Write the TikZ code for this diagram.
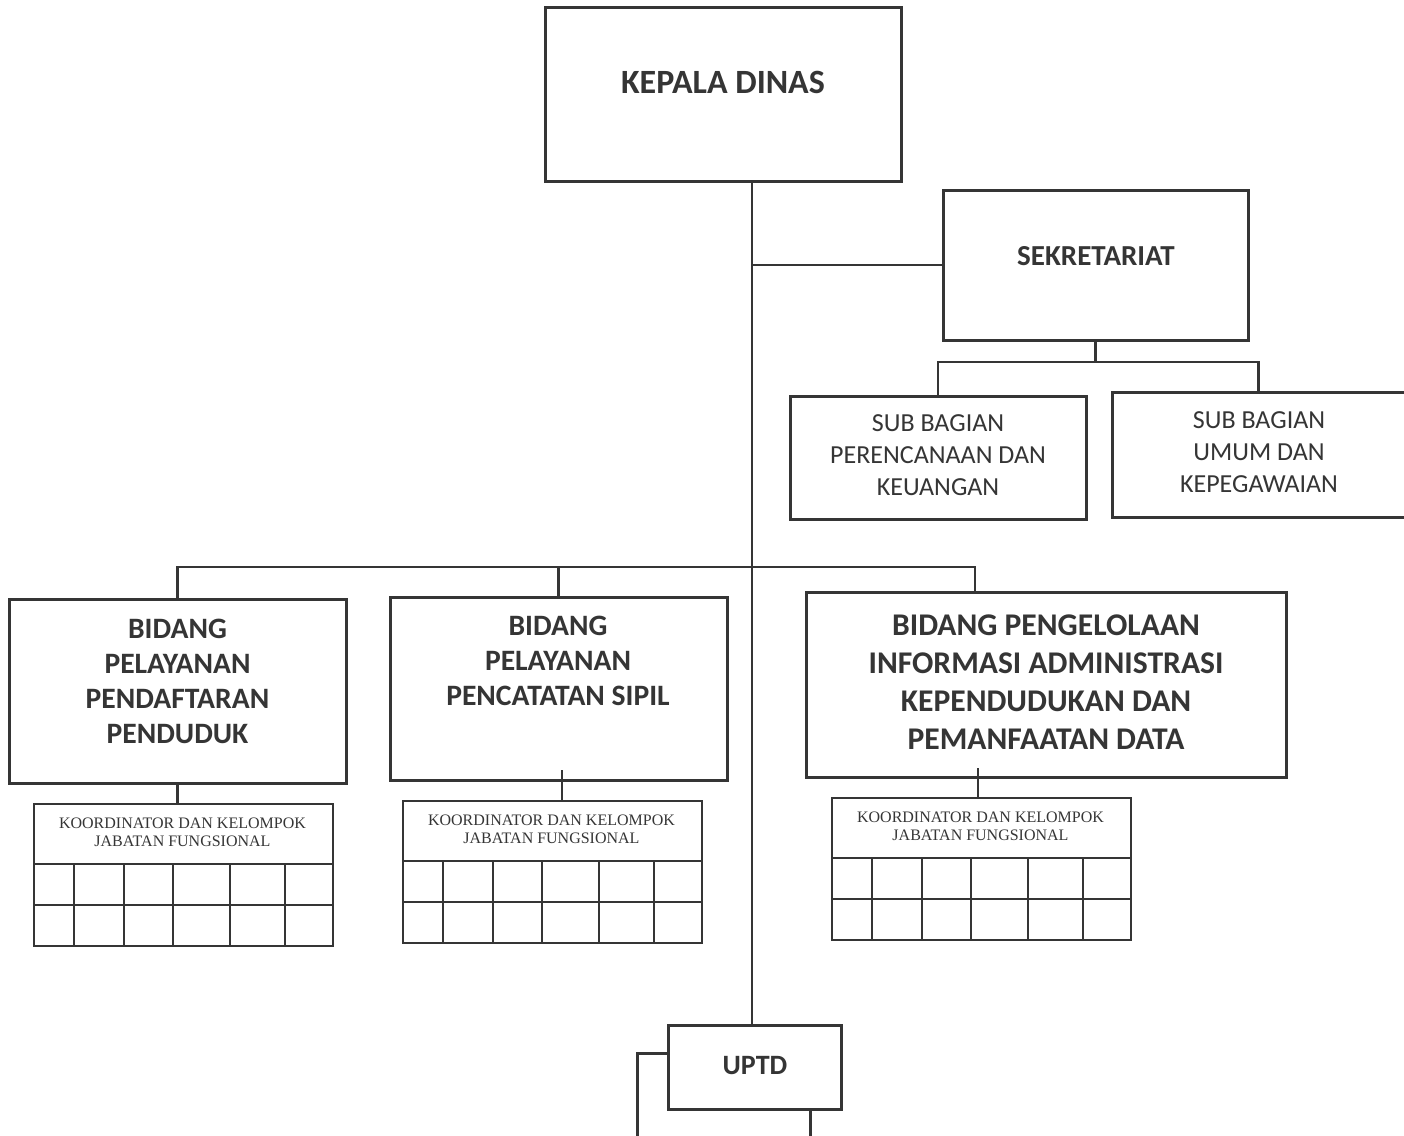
\documentclass[tikz,border=0pt]{standalone}
\usepackage{fontspec}
\setmainfont{Carlito}
\newfontfamily\kjffont{Liberation Serif}
\definecolor{ink}{HTML}{353535}

\tikzset{
	kotak/.style = {draw = ink, line width = 1.5pt, fill = white, inner sep = 0pt},
	judul/.style = {text = ink, align = center, inner sep = 0pt},
	kjf/.style = {kotak, line width = 1.2pt, anchor = north west, minimum width = 149.5pt, minimum height = 71pt},
	kjftext/.style = {judul, font = \kjffont\fontsize{8}{9}\selectfont}
}

\begin{document}
\begin{tikzpicture}[x = 0.5pt, y = -0.5pt, color = ink, line width = 1.2pt]

	\useasboundingbox [fill = white] (0, 0) rectangle (1404, 1136);

	% Kepala dinas
	
	\node [kotak, minimum width = 178pt, minimum height = 87pt] (kadis) at (723, 94) {};
	\node [judul, font = \bfseries\fontsize{17}{20}\selectfont] (kadis-txt) at (723, 82) {KEPALA DINAS};
	
	% Sekretariat w/ sub bagian
	
	\node [kotak, minimum width = 152.5pt, minimum height = 75pt] (sek) at (1095.5, 265) {};
	\node [judul, font = \bfseries\fontsize{14.5}{17}\selectfont] (sek-txt) at (1096, 256) {SEKRETARIAT};
	
	\node [kotak, minimum width = 148pt, minimum height = 61.5pt] (sub1) at (938, 457.5) {};
	\node [judul, font = \fontsize{13}{16}\selectfont] (sub1-txt) at (938, 455) {SUB BAGIAN\\PERENCANAAN DAN\\KEUANGAN};
	
	\node [kotak, minimum width = 146.5pt, minimum height = 62.5pt] (sub2) at (1258.5, 454.5) {};
	\node [judul, font = \fontsize{13}{16}\selectfont] (sub2-txt) at (1259, 452.5) {SUB BAGIAN\\UMUM DAN\\KEPEGAWAIAN};
	
	% Bidang
	
	\node [kotak, minimum width = 168.5pt, minimum height = 92pt] (bid1) at (177.5, 691) {};
	\node [judul, font = \bfseries\fontsize{14.8}{17.5}\selectfont] (bid1-txt) at (177.5, 681.5) {BIDANG\\PELAYANAN\\PENDAFTARAN\\PENDUDUK};
	
	\node [kotak, minimum width = 168.5pt, minimum height = 91.5pt] (bid2) at (558.5, 688.5) {};
	\node [judul, font = \bfseries\fontsize{14.8}{17.5}\selectfont] (bid2-txt) at (558, 661) {BIDANG\\PELAYANAN\\PENCATATAN SIPIL};
	
	\node [kotak, minimum width = 240pt, minimum height = 92.5pt] (bid3) at (1046, 684.5) {};
	\node [judul, font = \bfseries\fontsize{15.8}{19}\selectfont] (bid3-txt) at (1046, 682) {BIDANG PENGELOLAAN\\INFORMASI ADMINISTRASI\\KEPENDUDUKAN DAN\\PEMANFAATAN DATA};
	
	% Koordinator dan kelompok jabatan fungsional
	
	\foreach \n/\x/\y in {1/33/803, 2/402/800, 3/831/797} {
		\node [kjf] (kjf\n) at (\x, \y) {};
		\draw (\x, \y + 61) -- ++ (299, 0);
		\draw (\x, \y + 102) -- ++ (299, 0);
		\foreach \c in {41, 91, 140, 197, 252}
			\draw (\x + \c, \y + 61) -- ++ (0, 81);
		\node [kjftext] (kjf\n-txt) at (\x + 149.5, \y + 29) {KOORDINATOR DAN KELOMPOK\\JABATAN FUNGSIONAL};
	}
	
	% UPTD w/ shadow box
	
	\node [kotak, minimum width = 86.5pt, minimum height = 42pt, anchor = north west] (uptd-bayang) at (636, 1052) {};
	\node [kotak, minimum width = 86.5pt, minimum height = 42pt] (uptd) at (754.5, 1067) {};
	\node [judul, font = \bfseries\fontsize{14}{17}\selectfont] (uptd-txt) at (755, 1066) {UPTD};
	
	% Connectors
	
	\coordinate (spine) at (752, 0);
	\coordinate (subbus) at (0, 362);
	\coordinate (bidbus) at (0, 567);
	\coordinate (b3link) at (975, 0);
	\coordinate (k2link) at (562, 770);
	\coordinate (k3link) at (978, 768);
	
	\draw (kadis.south -| spine) -- (uptd.north -| spine);
	\draw (spine |- sek.west) -- (sek.west);
	
	\draw (sek.south) -- (sek.south |- subbus);
	\draw (sub1.north) -- (sub1.north |- subbus) -- (sub2.north |- subbus) -- (sub2.north);
	
	\draw (bid1.north) -- (bid1.north |- bidbus) -- (b3link |- bidbus) -- (b3link |- bid3.north);
	\draw (bid2.north) -- (bid2.north |- bidbus);
	
	\draw (bid1.south) -- (bid1.south |- kjf1.north);
	\draw (k2link) -- (k2link |- kjf2.north);
	\draw (k3link) -- (k3link |- kjf3.north);
	
\end{tikzpicture}
\end{document}
